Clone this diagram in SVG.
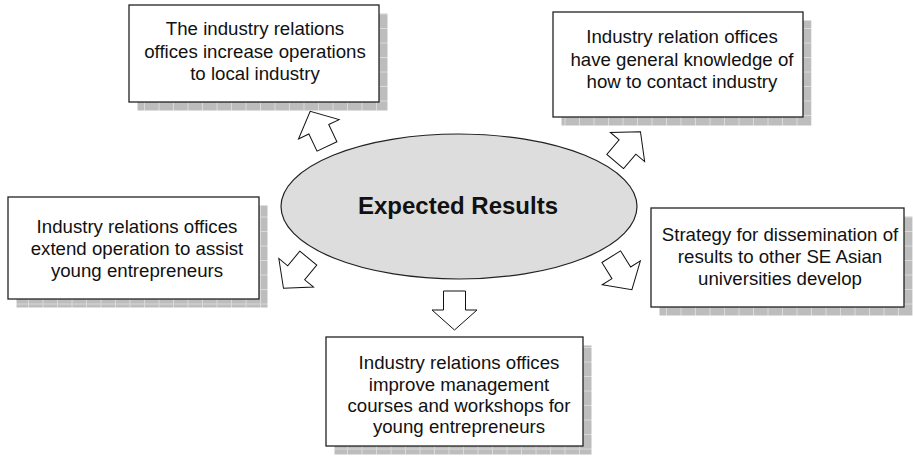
<svg xmlns="http://www.w3.org/2000/svg" xmlns:xlink="http://www.w3.org/1999/xlink" width="913" height="457" viewBox="0 0 913 457">
<style>
.box{fill:#ffffff;stroke:#222222;stroke-width:1.3}
.shadow{fill:url(#grid)}
.lbl{font-family:"Liberation Sans",Arial,sans-serif;font-size:18.67px;fill:#111111;text-anchor:middle}
.title{font-family:"Liberation Sans",Arial,sans-serif;font-size:24px;font-weight:bold;fill:#111111;text-anchor:middle}
.arrow{fill:#ffffff;stroke:#111111;stroke-width:1;stroke-linejoin:miter}
</style>
<defs>
<pattern id="grid" patternUnits="userSpaceOnUse" width="14.5" height="14.5">
<rect width="14.5" height="14.5" fill="#bdbdbd"/>
<path d="M14,0V14.5M0,14H14.5" stroke="#dadada" stroke-width="1" fill="none"/>
</pattern>
<polygon id="arr" points="-11,-19 11,-19 11,0 22.5,0 0,20 -22.5,0 -11,0"/>
</defs>
<rect width="913" height="457" fill="#ffffff"/>
<g id="connectors">
<use xlink:href="#arr" class="arrow" transform="translate(318.8,129.3) rotate(154.5)"/>
<use xlink:href="#arr" class="arrow" transform="translate(627.5,147) rotate(-139.6)"/>
<use xlink:href="#arr" class="arrow" transform="translate(296.2,272.8) rotate(39.5)"/>
<use xlink:href="#arr" class="arrow" transform="translate(621.3,272.8) rotate(-32)"/>
<use xlink:href="#arr" class="arrow" transform="translate(454.5,310)"/>
</g>
<g id="center">
<ellipse cx="459" cy="206.5" rx="178" ry="72.5" fill="#dddddd" stroke="#222222" stroke-width="1.2"/>
<text class="title" x="458" y="213.5">Expected Results</text>
</g>
<g id="box1">
<rect class="shadow" x="137.5" y="13.5" width="250" height="97"/>
<rect class="box" x="129" y="5" width="250" height="97"/>
<text class="lbl" x="255" y="35">The industry relations</text>
<text class="lbl" x="255" y="57.5">offices increase operations</text>
<text class="lbl" x="255" y="80">to local industry</text>
</g>
<g id="box2">
<rect class="shadow" x="561.5" y="20.5" width="250" height="105"/>
<rect class="box" x="553" y="12" width="250" height="105"/>
<text class="lbl" x="682" y="43.3">Industry relation offices</text>
<text class="lbl" x="682" y="65.5">have general knowledge of</text>
<text class="lbl" x="682" y="87.5">how to contact industry</text>
</g>
<g id="box3">
<rect class="shadow" x="16.5" y="205.5" width="251" height="102"/>
<rect class="box" x="8" y="197" width="251" height="102"/>
<text class="lbl" x="137" y="233">Industry relations offices</text>
<text class="lbl" x="137" y="255">extend operation to assist</text>
<text class="lbl" x="137" y="277">young entrepreneurs</text>
</g>
<g id="box4">
<rect class="shadow" x="659.5" y="216.5" width="253" height="99"/>
<rect class="box" x="651" y="208" width="253" height="99"/>
<text class="lbl" x="780" y="241">Strategy for dissemination of</text>
<text class="lbl" x="780" y="263">results to other SE Asian</text>
<text class="lbl" x="780" y="284.5">universities develop</text>
</g>
<g id="box5">
<rect class="shadow" x="334.5" y="345.5" width="257" height="109"/>
<rect class="box" x="326" y="337" width="257" height="109"/>
<text class="lbl" x="459" y="369">Industry relations offices</text>
<text class="lbl" x="459" y="390.5">improve management</text>
<text class="lbl" x="459" y="412">courses and workshops for</text>
<text class="lbl" x="459" y="433">young entrepreneurs</text>
</g>
</svg>
